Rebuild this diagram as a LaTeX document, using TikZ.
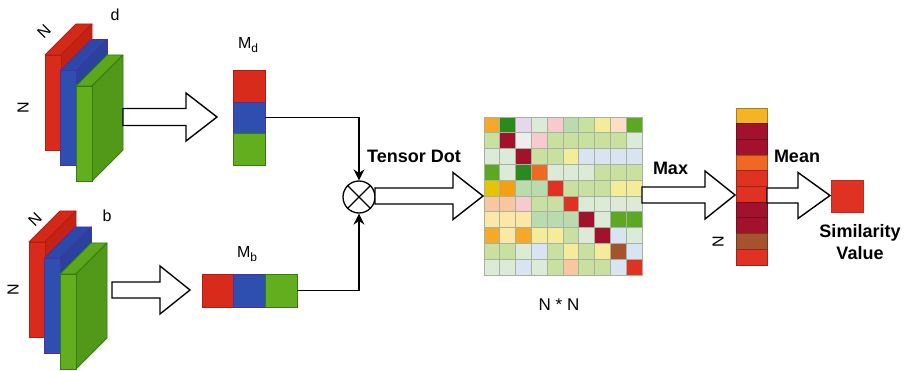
\documentclass[tikz,border=0pt]{standalone}
\usepackage{fontspec}
\setmainfont{Liberation Sans}
\usetikzlibrary{arrows.meta}

% slab colours
\definecolor{slabR}{HTML}{D92B1C}\definecolor{slabRt}{HTML}{D42818}\definecolor{slabRs}{HTML}{C42314}\definecolor{slabRb}{HTML}{B01E12}
\definecolor{slabB}{HTML}{2F4FB0}\definecolor{slabBt}{HTML}{2C49AA}\definecolor{slabBs}{HTML}{28429E}\definecolor{slabBb}{HTML}{4A30A0}
\definecolor{slabG}{HTML}{63AE1F}\definecolor{slabGt}{HTML}{5CA71C}\definecolor{slabGs}{HTML}{52991A}\definecolor{slabGb}{HTML}{2E7F10}
% matrix cell colours
\definecolor{mO}{HTML}{F5A82A}\definecolor{mDG}{HTML}{2A8A1E}\definecolor{mLV}{HTML}{E8D6EC}
\definecolor{mMT}{HTML}{DCEBD8}\definecolor{mPK}{HTML}{F8C9CD}\definecolor{mSG}{HTML}{B9DBAE}
\definecolor{mLG}{HTML}{C8E0A0}\definecolor{mPY}{HTML}{F4EC98}\definecolor{mPE}{HTML}{FCDDC6}
\definecolor{mGR}{HTML}{5CA823}\definecolor{mDR}{HTML}{A2122C}\definecolor{mWH}{HTML}{EDEDED}
\definecolor{mLB}{HTML}{D8E4F2}\definecolor{mOR}{HTML}{EE6A22}\definecolor{mYE}{HTML}{E6C500}
\definecolor{mOA}{HTML}{F2A014}\definecolor{mRD}{HTML}{E03222}\definecolor{mPC}{HTML}{FAC6A0}
\definecolor{mCY}{HTML}{FBE7A6}\definecolor{mBR}{HTML}{A4532E}\definecolor{mTY}{HTML}{F5B424}
\definecolor{cellline}{HTML}{A8B0A0}

% one feature-map slab: x, y of front top-left, front, top, side and border colours
\newcommand\slab[6]{%
  \filldraw[fill=#4,draw=#6,line width=0.8pt,line join=round] (#1,#2) -- ++(31,-31) -- ++(16,0) -- ++(-31,31) -- cycle;
  \filldraw[fill=#5,draw=#6,line width=0.8pt,line join=round] (#1+16,#2) -- ++(31,-31) -- ++(0,95) -- ++(-31,31) -- cycle;
  \filldraw[fill=#3,draw=#6,line width=0.8pt] (#1,#2) rectangle ++(16,95);
}
% outlined block arrow: start x, head start x, tip x, centre y, shaft half width, head half width
\newcommand\fatarrow[6]{%
  \draw[hollow] (#1,#4-#5) -- (#2,#4-#5) -- (#2,#4-#6) -- (#3,#4) -- (#2,#4+#6) -- (#2,#4+#5) -- (#1,#4+#5) -- cycle;
}

\begin{document}
\begin{tikzpicture}[x=1pt,y=-1pt,
  hollow/.style={draw=black,line width=1.4pt,fill=white,line join=miter},
  conn/.style={draw=black,line width=1.3pt,-{Stealth[length=11pt,width=11pt]}},
  lbl/.style={font=\fontsize{16}{19}\selectfont,inner sep=0},
  blbl/.style={font=\fontsize{18}{21}\selectfont\bfseries,inner sep=0},
  cell/.style={line width=0.8pt}]
\useasboundingbox (0,0) rectangle (910,371);
\fill[white] (0,0) rectangle (910,371);

% ---- feature maps d ----
\slab{45}{55}{slabR}{slabRt}{slabRs}{slabRb}
\slab{60.5}{70.5}{slabB}{slabBt}{slabBs}{slabBb}
\slab{76}{86}{slabG}{slabGt}{slabGs}{slabGb}
\node[lbl,rotate=45] (nd1) at (44,32) {N};
\node[lbl,rotate=90] (nd2) at (23,108) {N};
\node[lbl,anchor=base] (dlab) at (115,21) {d};

% ---- feature maps b ----
\slab{29}{242}{slabR}{slabRt}{slabRs}{slabRb}
\slab{44.5}{258}{slabB}{slabBt}{slabBs}{slabBb}
\slab{60}{274}{slabG}{slabGt}{slabGs}{slabGb}
\node[lbl,rotate=45] (nb1) at (35,220) {N};
\node[lbl,rotate=90] (nb2) at (13,290) {N};
\node[lbl,anchor=base] (blab) at (107,222) {b};

% ---- pooled vectors ----
\node[minimum width=32,minimum height=95,inner sep=0] (md) at (249,117.5) {};
\filldraw[cell,fill=slabR,draw=slabRb] (233,70) rectangle (265,102);
\filldraw[cell,fill=slabB,draw=slabBb] (233,102) rectangle (265,133);
\filldraw[cell,fill=slabG,draw=slabGb] (233,133) rectangle (265,165);
\node[lbl,anchor=base] (mdl) at (248,49) {M\raisebox{-0.45ex}{\fontsize{12}{13}\selectfont d}};

\node[minimum width=95,minimum height=33,inner sep=0] (mb) at (249.5,290.5) {};
\filldraw[cell,fill=slabR,draw=slabRb] (202,274) rectangle (233.5,307);
\filldraw[cell,fill=slabB,draw=slabBb] (233.5,274) rectangle (265,307);
\filldraw[cell,fill=slabG,draw=slabGb] (265,274) rectangle (297,307);
\node[lbl,anchor=base] (mbl) at (247,258) {M\raisebox{-0.45ex}{\fontsize{12}{13}\selectfont b}};

\fatarrow{123}{186}{217}{117}{8.5}{24}
\fatarrow{112}{160}{190}{290}{8}{24}

% ---- tensor dot ----
\node[circle,draw=black,line width=1.3pt,minimum size=32,inner sep=0] (ot) at (359,197) {};
\draw[line width=1.3pt] (ot.north east) -- (ot.south west) (ot.north west) -- (ot.south east);
\draw[conn] (md.east) -| (ot.north);
\draw[conn] (mb.east) -| (ot.south);
\node[blbl,anchor=base] (tdl) at (414,163) {Tensor Dot};

\fatarrow{375}{453}{483}{196}{8}{23.5}

% ---- N x N similarity matrix ----
\node[minimum size=158,inner sep=0] (mat) at (563,196) {};
\foreach \row [count=\r from 0] in {
  {mO,mDG,mLV,mMT,mPK,mSG,mLG,mPY,mPE,mGR},
  {mLG,mDR,mWH,mPK,mLG,mLG,mLG,mLG,mLG,mMT},
  {mMT,mMT,mDR,mLG,mLG,mPY,mLB,mLB,mLB,mLB},
  {mGR,mMT,mDG,mOR,mMT,mMT,mMT,mLG,mLG,mLG},
  {mYE,mOA,mSG,mSG,mRD,mLG,mLG,mLG,mPY,mPY},
  {mPC,mPC,mPK,mLG,mLG,mRD,mMT,mMT,mMT,mMT},
  {mCY,mCY,mCY,mSG,mSG,mSG,mDR,mMT,mGR,mGR},
  {mO,mCY,mO,mPY,mPY,mLG,mMT,mDR,mLB,mMT},
  {mLG,mLG,mMT,mLB,mLG,mPY,mLG,mPY,mBR,mLB},
  {mMT,mMT,mLB,mMT,mLG,mPC,mLG,mLG,mLB,mRD}}{
  \foreach \c [count=\k from 0] in \row {
    \filldraw[cell,fill=\c,draw=cellline] (484+\k*15.8,117+\r*15.8) rectangle ++(15.8,15.8);
  }
}
\node[font=\fontsize{17}{20}\selectfont,inner sep=0,anchor=base] (nn) at (559,311) {N * N};

\fatarrow{642}{705}{735}{195}{8}{24}
\node[blbl,anchor=base] (maxl) at (670.5,175) {Max};

% ---- row maxima ----
\node[minimum width=31,minimum height=157,inner sep=0] (col) at (751.5,186.5) {};
\foreach \c [count=\k from 0] in {mTY,mDR,mDR,mOR,mRD,mRD,mDR,mDR,mBR,mRD}{
  \filldraw[cell,fill=\c,draw=\c!70!black] (736,108+\k*15.7) rectangle ++(31,15.7);
}
\node[lbl,rotate=90] (nc) at (718,242) {N};

\fatarrow{767}{798}{830}{195.5}{7.5}{23}
\node[blbl,anchor=base] (meanl) at (797,163) {Mean};

% ---- similarity value ----
\node[minimum size=32,inner sep=0,fill=mRD,draw=mRD!85!black,line width=0.8pt] (sim) at (847,196) {};
\node[blbl,anchor=base] (siml) at (860,238) {Similarity};
\node[blbl,anchor=base] (vall) at (860,260) {Value};
\end{tikzpicture}
\end{document}
